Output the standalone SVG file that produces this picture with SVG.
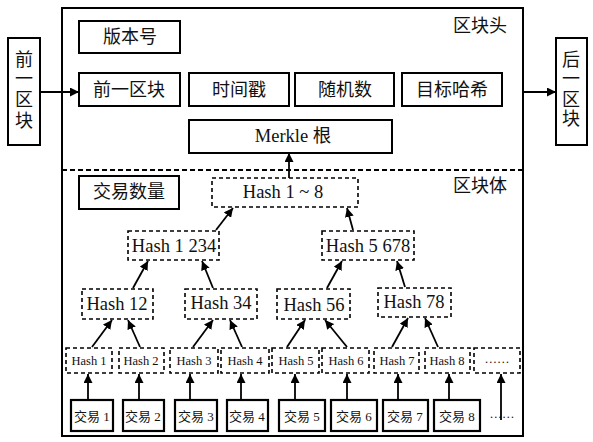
<svg xmlns="http://www.w3.org/2000/svg" width="593" height="442" viewBox="0 0 593 442">
<style>
.s{fill:#fff;stroke:#000;stroke-width:2}
.d{fill:#fff;stroke:#000;stroke-width:1.6;stroke-dasharray:4 3}
.t{fill:#fff;stroke:#000;stroke-width:2.2}
.c{stroke:#000;stroke-width:1.8;fill:none;marker-end:url(#a)}
text{font-family:"Liberation Serif","Noto Sans CJK SC",serif;fill:#111;text-anchor:middle;dominant-baseline:central}
.f17{font-size:18px}
.f16{font-size:17px}
.fh{font-size:18.5px}
.f12{font-size:12.5px}
.f13{font-size:13px}
</style>
<defs>
<marker id="a" viewBox="0 0 10 10" refX="10" refY="5" markerWidth="9" markerHeight="9" markerUnits="userSpaceOnUse" orient="auto">
<path d="M0,0 L10,5 L0,10 Z" fill="#000"/>
</marker>
</defs>
<rect x="0" y="0" width="593" height="442" fill="#fff"/>
<g id="block">
<rect x="62" y="8" width="461" height="428" fill="none" stroke="#000" stroke-width="2"/>
<line x1="62" y1="170" x2="523" y2="170" stroke="#000" stroke-width="1.8" stroke-dasharray="5 3"/>
<text x="480" y="26" class="f17">区块头</text>
<text x="480" y="186" class="f17">区块体</text>
</g>
<g id="prev"><rect class="s" x="8" y="38" width="32" height="107"/>
<text x="24" y="60" class="f17">前</text><text x="24" y="79" class="f17">一</text><text x="24" y="100" class="f17">区</text><text x="24" y="121" class="f17">块</text></g>
<g id="next"><rect class="s" x="556" y="38" width="31" height="107"/>
<text x="571" y="60" class="f17">后</text><text x="571" y="79" class="f17">一</text><text x="571" y="100" class="f17">区</text><text x="571" y="119" class="f17">块</text></g>
<g id="version"><rect class="s" x="79" y="21" width="101" height="32"/><text x="130" y="37" class="f17">版本号</text></g>
<g id="prevhash"><rect class="s" x="79" y="73" width="101" height="33"/><text x="129" y="90" class="f17">前一区块</text></g>
<g id="time"><rect class="s" x="189" y="73" width="100" height="33"/><text x="239" y="90" class="f17">时间戳</text></g>
<g id="nonce"><rect class="s" x="295" y="73" width="99" height="33"/><text x="345" y="90" class="f17">随机数</text></g>
<g id="target"><rect class="s" x="402" y="73" width="100" height="33"/><text x="452" y="90" class="f17">目标哈希</text></g>
<g id="merkle"><rect class="s" x="189" y="120" width="203" height="33"/><text x="293" y="136" class="fh">Merkle 根</text></g>
<g id="count"><rect class="s" x="79" y="176" width="100" height="33"/><text x="129" y="192" class="f17">交易数量</text></g>
<g id="h18"><rect class="d" x="212" y="178" width="146" height="29"/><text x="283" y="192" class="fh">Hash 1 ~ 8</text></g>
<g id="h1234"><rect class="d" x="128" y="231" width="91" height="29"/><text x="174" y="246" class="fh">Hash 1 234</text></g>
<g id="h5678"><rect class="d" x="322" y="231" width="92" height="29"/><text x="368" y="246" class="fh">Hash 5 678</text></g>
<g id="h12"><rect class="d" x="82" y="289" width="71" height="30"/><text x="117" y="304" class="fh">Hash 12</text></g>
<g id="h34"><rect class="d" x="185" y="289" width="72" height="30"/><text x="221" y="303" class="fh">Hash 34</text></g>
<g id="h56"><rect class="d" x="277" y="289" width="73" height="30"/><text x="314" y="305" class="fh">Hash 56</text></g>
<g id="h78"><rect class="d" x="378" y="288" width="73" height="29"/><text x="414" y="302" class="fh">Hash 78</text></g>
<g id="hash1"><rect class="d" x="66" y="348" width="46" height="25"/><text x="89" y="361" class="f12">Hash 1</text></g>
<g id="hash2"><rect class="d" x="119" y="348" width="45" height="25"/><text x="141" y="361" class="f12">Hash 2</text></g>
<g id="hash3"><rect class="d" x="170" y="348" width="48" height="25"/><text x="194" y="361" class="f12">Hash 3</text></g>
<g id="hash4"><rect class="d" x="221" y="348" width="48" height="25"/><text x="245" y="361" class="f12">Hash 4</text></g>
<g id="hash5"><rect class="d" x="272" y="348" width="47" height="25"/><text x="296" y="361" class="f12">Hash 5</text></g>
<g id="hash6"><rect class="d" x="322" y="348" width="47" height="25"/><text x="346" y="361" class="f12">Hash 6</text></g>
<g id="hash7"><rect class="d" x="374" y="348" width="45" height="25"/><text x="397" y="361" class="f12">Hash 7</text></g>
<g id="hash8"><rect class="d" x="425" y="348" width="45" height="25"/><text x="447" y="361" class="f12">Hash 8</text></g>
<g id="hashdots"><rect class="d" x="474" y="348" width="46" height="25"/><text x="497" y="359" class="f12">……</text></g>
<g id="tx1"><rect class="t" x="71" y="400" width="42" height="31"/><text x="92" y="416" class="f13">交易 1</text></g>
<g id="tx2"><rect class="t" x="123" y="400" width="41" height="31"/><text x="143" y="416" class="f13">交易 2</text></g>
<g id="tx3"><rect class="t" x="175" y="400" width="42" height="31"/><text x="196" y="416" class="f13">交易 3</text></g>
<g id="tx4"><rect class="t" x="227" y="400" width="41" height="31"/><text x="247" y="416" class="f13">交易 4</text></g>
<g id="tx5"><rect class="t" x="279" y="400" width="46" height="31"/><text x="302" y="416" class="f13">交易 5</text></g>
<g id="tx6"><rect class="t" x="331" y="400" width="46" height="31"/><text x="354" y="416" class="f13">交易 6</text></g>
<g id="tx7"><rect class="t" x="383" y="400" width="45" height="31"/><text x="405" y="416" class="f13">交易 7</text></g>
<g id="tx8"><rect class="t" x="434" y="400" width="46" height="31"/><text x="457" y="416" class="f13">交易 8</text></g>
<g id="txdots"><text x="502" y="414" class="f12">……</text></g>
<g id="connectors">
<line class="c" x1="40" y1="92" x2="79" y2="92"/>
<line class="c" x1="523" y1="92" x2="556" y2="92"/>
<line class="c" x1="289" y1="178" x2="289" y2="153"/>
<line class="c" x1="216" y1="230" x2="233" y2="208"/>
<line class="c" x1="353" y1="230" x2="347" y2="208"/>
<line class="c" x1="133" y1="288" x2="148" y2="261"/>
<line class="c" x1="213" y1="288" x2="202" y2="261"/>
<line class="c" x1="327" y1="288" x2="342" y2="261"/>
<line class="c" x1="405" y1="287" x2="397" y2="261"/>
<line class="c" x1="92" y1="347" x2="112" y2="320"/>
<line class="c" x1="140" y1="347" x2="128" y2="320"/>
<line class="c" x1="193" y1="347" x2="213" y2="320"/>
<line class="c" x1="242" y1="347" x2="230" y2="320"/>
<line class="c" x1="287" y1="347" x2="305" y2="320"/>
<line class="c" x1="347" y1="347" x2="325" y2="320"/>
<line class="c" x1="392" y1="347" x2="408" y2="318"/>
<line class="c" x1="438" y1="347" x2="425" y2="318"/>
<line class="c" x1="88" y1="400" x2="88" y2="374"/>
<line class="c" x1="139" y1="400" x2="139" y2="374"/>
<line class="c" x1="190" y1="400" x2="190" y2="374"/>
<line class="c" x1="241" y1="400" x2="241" y2="374"/>
<line class="c" x1="295" y1="400" x2="295" y2="374"/>
<line class="c" x1="347" y1="400" x2="347" y2="374"/>
<line class="c" x1="398" y1="400" x2="398" y2="374"/>
<line class="c" x1="449" y1="400" x2="449" y2="374"/>
<line class="c" x1="501" y1="420" x2="501" y2="374"/>
</g>
</svg>
